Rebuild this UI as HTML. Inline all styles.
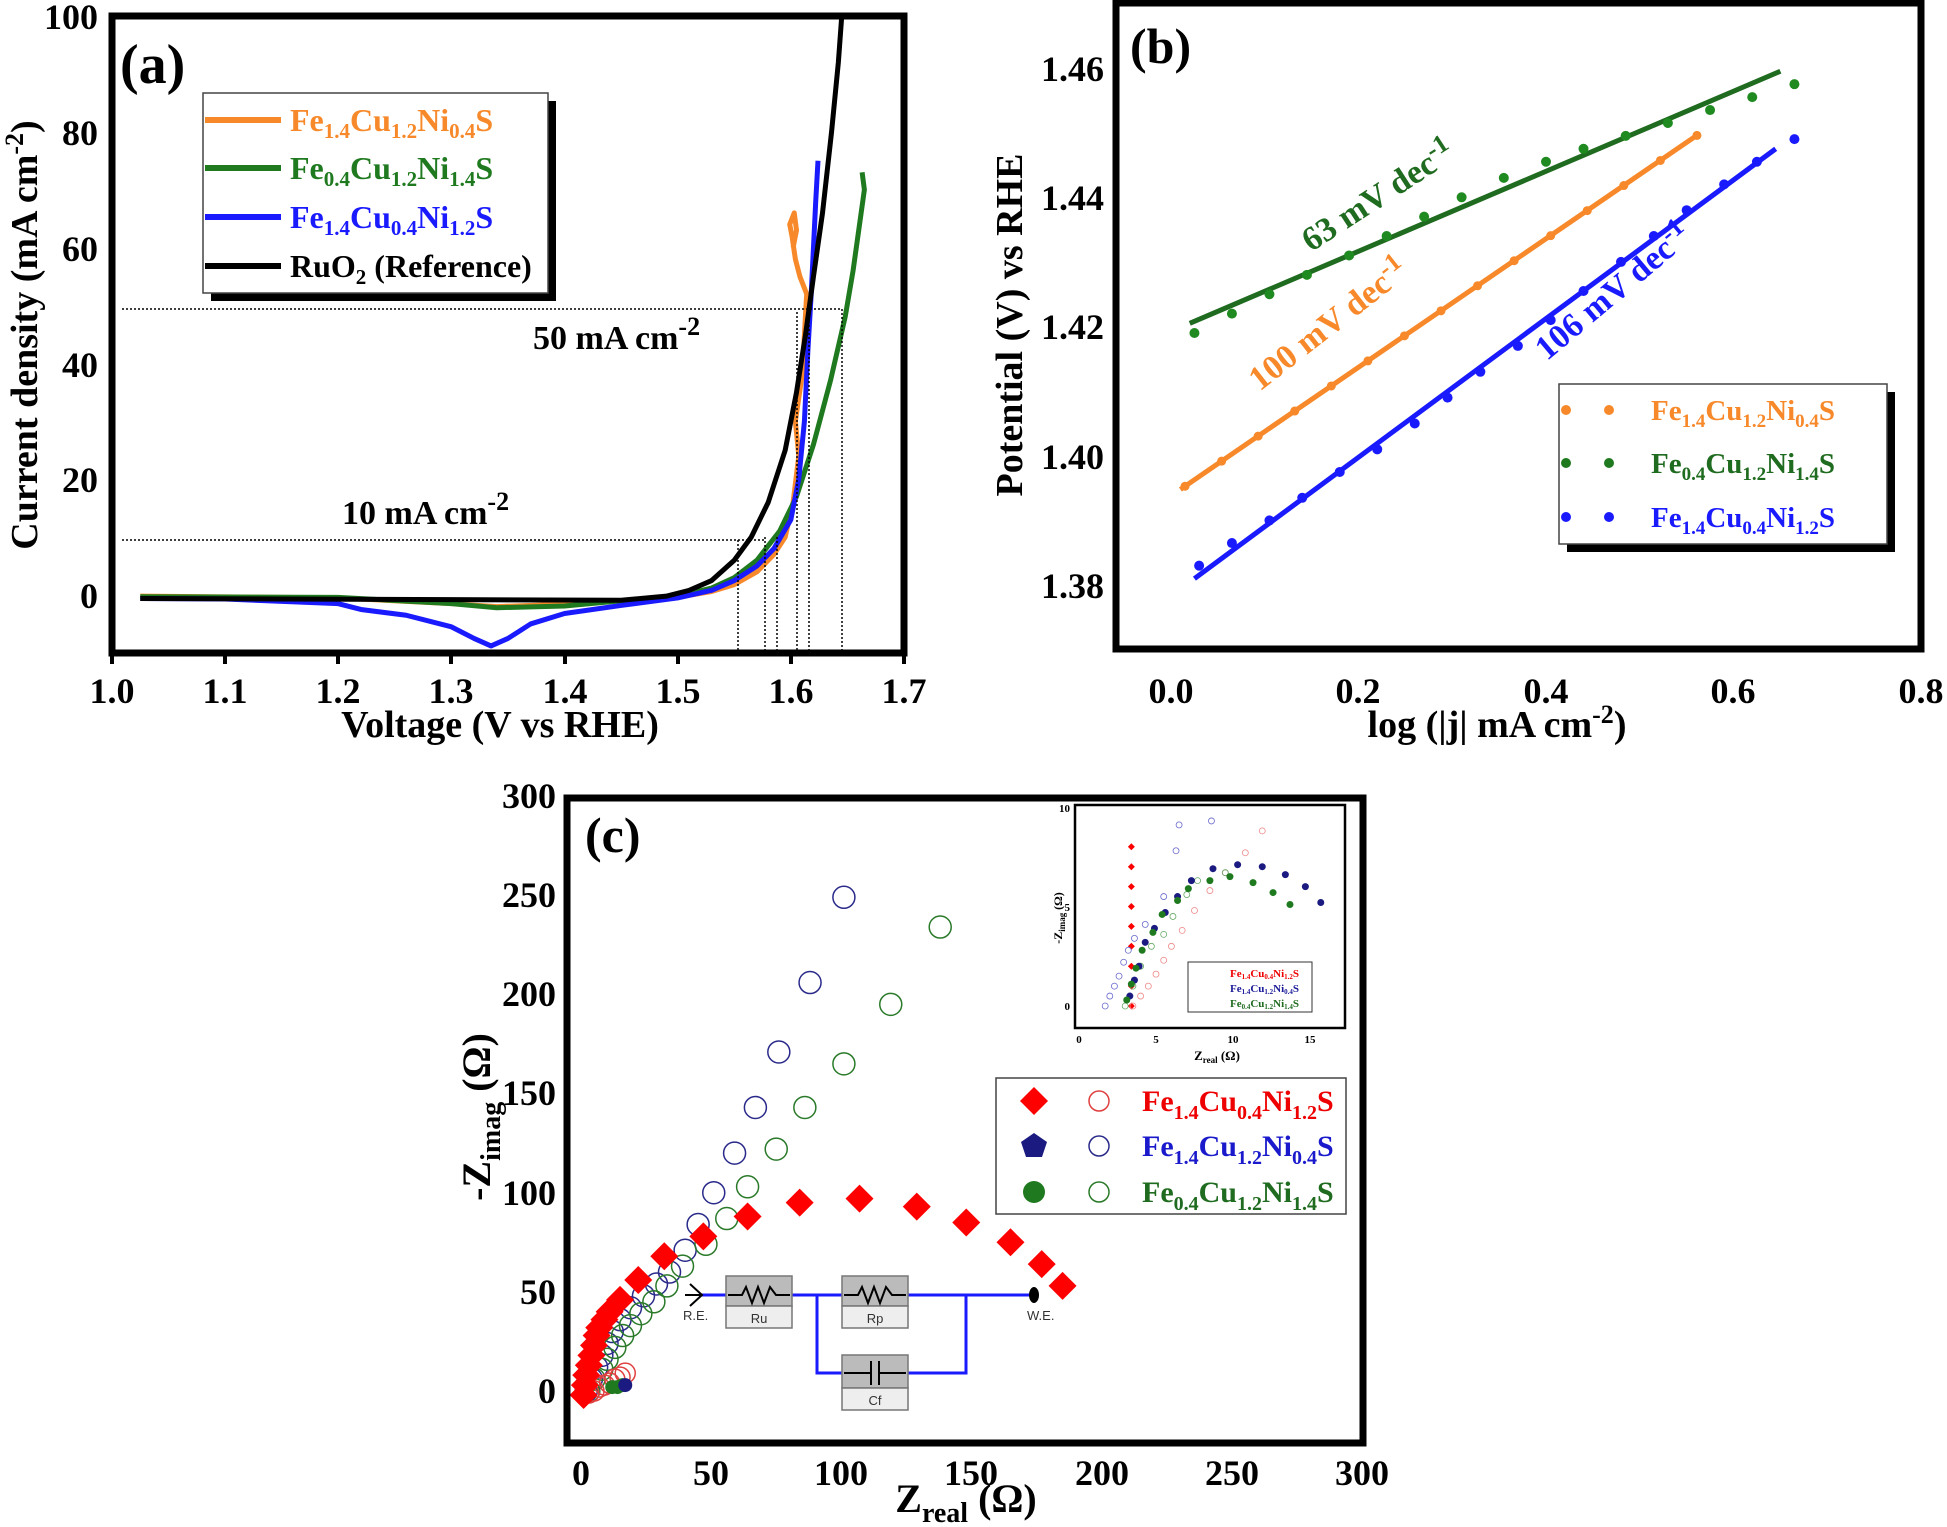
<!DOCTYPE html>
<html><head><meta charset="utf-8"><style>
html,body{margin:0;padding:0;background:#fff}
svg{display:block}
text{font-family:"Liberation Serif",serif;font-weight:bold}
</style></head><body>
<svg id="s" width="1947" height="1527" viewBox="0 0 1947 1527" xmlns="http://www.w3.org/2000/svg">
<rect width="1947" height="1527" fill="#fff"/>

<!-- ============ PANEL A ============ -->
<g id="pa">
<g transform="matrix(1131.4 0 0 -5.79 -1019.4 595)" fill="none" stroke-linejoin="round">
<path vector-effect="non-scaling-stroke" stroke="#f7892a" stroke-width="5" d="M1.025,-0.2 L1.2,-0.5 L1.3,-1.5 L1.34,-2 L1.4,-1.6 L1.45,-1 L1.5,-0.4 L1.53,0.6 L1.55,1.8 L1.57,4 L1.585,7 L1.595,10 L1.602,16 L1.607,24 L1.604,30 L1.61,38 L1.612,45 L1.614,52 L1.608,55 L1.604,58 L1.601,62 L1.599,64 L1.603,66 L1.605,63 L1.602,60"/>
<path vector-effect="non-scaling-stroke" stroke="#1f7a1f" stroke-width="5" d="M1.025,-0.3 L1.2,-0.4 L1.3,-1.5 L1.34,-2.2 L1.4,-1.9 L1.45,-1 L1.5,-0.2 L1.53,1.2 L1.55,3 L1.57,6 L1.59,11 L1.605,17 L1.62,26 L1.635,37 L1.648,48 L1.655,56 L1.66,63 L1.665,70 L1.663,73"/>
<path vector-effect="non-scaling-stroke" stroke="#1a1aff" stroke-width="5" d="M1.025,-0.6 L1.1,-0.7 L1.2,-1.5 L1.22,-2.5 L1.26,-3.5 L1.3,-5.5 L1.32,-7.5 L1.335,-8.8 L1.35,-7.5 L1.37,-5 L1.4,-3.2 L1.45,-1.8 L1.5,-0.5 L1.53,0.8 L1.55,2.5 L1.57,5 L1.585,8 L1.6,13 L1.607,20 L1.612,30 L1.615,42 L1.618,52 L1.62,60 L1.622,68 L1.624,75"/>
<path vector-effect="non-scaling-stroke" stroke="#000" stroke-width="5" d="M1.025,-0.6 L1.3,-0.8 L1.45,-0.9 L1.49,-0.2 L1.51,0.8 L1.53,2.5 L1.55,6 L1.565,10 L1.58,16 L1.595,25 L1.605,35 L1.613,45 L1.62,55 L1.628,66 L1.636,80 L1.642,92 L1.645,100"/>
</g>
<g stroke="#000" stroke-width="1.5" stroke-dasharray="2,2" fill="none">
<line x1="122" y1="309" x2="842" y2="309"/>
<line x1="122" y1="540" x2="764" y2="540"/>
<line x1="738" y1="540" x2="738" y2="653"/>
<line x1="765" y1="537" x2="765" y2="653"/>
<line x1="777" y1="537" x2="777" y2="653"/>
<line x1="797" y1="312" x2="797" y2="653"/>
<line x1="809" y1="309" x2="809" y2="653"/>
<line x1="842" y1="309" x2="842" y2="653"/>
</g>
<rect x="112" y="16" width="792" height="637" fill="none" stroke="#000" stroke-width="7"/>
<g stroke="#000" stroke-width="4">
<line x1="112" y1="653" x2="112" y2="664"/><line x1="225" y1="653" x2="225" y2="664"/><line x1="338" y1="653" x2="338" y2="664"/><line x1="451" y1="653" x2="451" y2="664"/><line x1="565" y1="653" x2="565" y2="664"/><line x1="678" y1="653" x2="678" y2="664"/><line x1="791" y1="653" x2="791" y2="664"/><line x1="904" y1="653" x2="904" y2="664"/>
</g>
<g font-size="36" text-anchor="middle">
<text x="112" y="703">1.0</text><text x="225" y="703">1.1</text><text x="338" y="703">1.2</text><text x="451" y="703">1.3</text><text x="565" y="703">1.4</text><text x="678" y="703">1.5</text><text x="791" y="703">1.6</text><text x="904" y="703">1.7</text>
</g>
<g font-size="36" text-anchor="end">
<text x="98" y="29">100</text><text x="98" y="145">80</text><text x="98" y="261">60</text><text x="98" y="377">40</text><text x="98" y="492">20</text><text x="98" y="608">0</text>
</g>
<text x="500" y="737" font-size="38" text-anchor="middle">Voltage (V vs RHE)</text>
<text transform="translate(37,335) rotate(-90)" font-size="38" text-anchor="middle">Current density (mA cm<tspan dy="-14" font-size="26">-2</tspan><tspan dy="14">)</tspan></text>
<text x="120" y="83" font-size="56">(a)</text>
<text x="533" y="349" font-size="34">50 mA cm<tspan dy="-14" font-size="26">-2</tspan></text>
<text x="342" y="524" font-size="34">10 mA cm<tspan dy="-14" font-size="26">-2</tspan></text>
<rect x="211" y="101" width="345" height="200" fill="#000"/>
<rect x="203" y="93" width="345" height="200" fill="#fff" stroke="#444" stroke-width="1.5"/>
<g stroke-width="6"><line x1="205" y1="120" x2="281" y2="120" stroke="#f7892a"/><line x1="205" y1="168" x2="281" y2="168" stroke="#1f7a1f"/><line x1="205" y1="217" x2="281" y2="217" stroke="#1a1aff"/><line x1="205" y1="266" x2="281" y2="266" stroke="#000"/></g>
<g font-size="32">
<text x="290" y="131" fill="#f7892a">Fe<tspan font-size="21" dy="7">1.4</tspan><tspan dy="-7">Cu</tspan><tspan font-size="21" dy="7">1.2</tspan><tspan dy="-7">Ni</tspan><tspan font-size="21" dy="7">0.4</tspan><tspan dy="-7">S</tspan></text>
<text x="290" y="179" fill="#1f7a1f">Fe<tspan font-size="21" dy="7">0.4</tspan><tspan dy="-7">Cu</tspan><tspan font-size="21" dy="7">1.2</tspan><tspan dy="-7">Ni</tspan><tspan font-size="21" dy="7">1.4</tspan><tspan dy="-7">S</tspan></text>
<text x="290" y="228" fill="#1a1aff">Fe<tspan font-size="21" dy="7">1.4</tspan><tspan dy="-7">Cu</tspan><tspan font-size="21" dy="7">0.4</tspan><tspan dy="-7">Ni</tspan><tspan font-size="21" dy="7">1.2</tspan><tspan dy="-7">S</tspan></text>
<text x="290" y="277" fill="#000">RuO<tspan font-size="21" dy="7">2</tspan><tspan dy="-7"> (Reference)</tspan></text>
</g>
</g>

<!-- ============ PANEL B ============ -->
<g id="pb">
<g transform="matrix(937.5 0 0 -6463 1171 9504)" fill="none">
<path vector-effect="non-scaling-stroke" stroke="#1f6b1f" stroke-width="5" d="M0.02,1.4205 L0.65,1.4595"/>
<path vector-effect="non-scaling-stroke" stroke="#f7892a" stroke-width="5" d="M0.01,1.3948 L0.56,1.4495"/>
<path vector-effect="non-scaling-stroke" stroke="#1a1aff" stroke-width="5" d="M0.025,1.381 L0.645,1.4475"/>
</g>
<g id="bdots"></g>
<rect x="1116" y="3" width="805" height="646" fill="none" stroke="#000" stroke-width="7"/>
<g font-size="36" text-anchor="middle">
<text x="1171" y="703">0.0</text><text x="1358" y="703">0.2</text><text x="1546" y="703">0.4</text><text x="1733" y="703">0.6</text><text x="1921" y="703">0.8</text>
</g>
<g font-size="36" text-anchor="end">
<text x="1104" y="81">1.46</text><text x="1104" y="210">1.44</text><text x="1104" y="339">1.42</text><text x="1104" y="469">1.40</text><text x="1104" y="598">1.38</text>
</g>
<text x="1497" y="737" font-size="38" text-anchor="middle">log (|j| mA cm<tspan dy="-14" font-size="26">-2</tspan><tspan dy="14">)</tspan></text>
<text transform="translate(1022,325) rotate(-90)" font-size="38" text-anchor="middle">Potential (V) vs RHE</text>
<text x="1130" y="63" font-size="50">(b)</text>
<text transform="translate(1384,205) rotate(-33)" font-size="34" fill="#1f6b1f" text-anchor="middle">63 mV dec<tspan dy="-12" font-size="26">-1</tspan></text>
<text transform="translate(1335,333) rotate(-38)" font-size="34" fill="#f7892a" text-anchor="middle">100 mV dec<tspan dy="-12" font-size="26">-1</tspan></text>
<text transform="translate(1620,300) rotate(-40)" font-size="34" fill="#1a1aff" text-anchor="middle">106 mV dec<tspan dy="-12" font-size="26">-1</tspan></text>
<rect x="1567" y="392" width="328" height="160" fill="#000"/>
<rect x="1559" y="384" width="328" height="160" fill="#fff" stroke="#444" stroke-width="1.5"/>
<g><circle cx="1566" cy="410" r="5" fill="#f7892a"/><circle cx="1609" cy="410" r="5" fill="#f7892a"/><circle cx="1566" cy="463" r="5" fill="#1f7a1f"/><circle cx="1609" cy="463" r="5" fill="#1f7a1f"/><circle cx="1566" cy="517" r="5" fill="#1a1aff"/><circle cx="1609" cy="517" r="5" fill="#1a1aff"/></g>
<g font-size="29">
<text x="1651" y="420" fill="#f7892a">Fe<tspan font-size="19" dy="7">1.4</tspan><tspan dy="-7">Cu</tspan><tspan font-size="19" dy="7">1.2</tspan><tspan dy="-7">Ni</tspan><tspan font-size="19" dy="7">0.4</tspan><tspan dy="-7">S</tspan></text>
<text x="1651" y="473" fill="#1f6b1f">Fe<tspan font-size="19" dy="7">0.4</tspan><tspan dy="-7">Cu</tspan><tspan font-size="19" dy="7">1.2</tspan><tspan dy="-7">Ni</tspan><tspan font-size="19" dy="7">1.4</tspan><tspan dy="-7">S</tspan></text>
<text x="1651" y="527" fill="#1a1aff">Fe<tspan font-size="19" dy="7">1.4</tspan><tspan dy="-7">Cu</tspan><tspan font-size="19" dy="7">0.4</tspan><tspan dy="-7">Ni</tspan><tspan font-size="19" dy="7">1.2</tspan><tspan dy="-7">S</tspan></text>
</g>
</g>

<!-- ============ PANEL C ============ -->
<g id="pc">
<g id="cmark"></g>
<g>
<line x1="699" y1="1295" x2="1034" y2="1295" stroke="#1a1aff" stroke-width="3"/>
<polyline points="817,1295 817,1373 966,1373 966,1295" fill="none" stroke="#1a1aff" stroke-width="3"/>
<path d="M690,1284 L702,1295 L690,1306" fill="none" stroke="#000" stroke-width="2"/>
<line x1="685" y1="1295" x2="702" y2="1295" stroke="#000" stroke-width="2"/>
<rect x="726" y="1276" width="66" height="30" fill="#bbb" stroke="#777" stroke-width="1.5"/><rect x="726" y="1306" width="66" height="22" fill="#eee" stroke="#777" stroke-width="1.5"/>
<rect x="842" y="1276" width="66" height="30" fill="#bbb" stroke="#777" stroke-width="1.5"/><rect x="842" y="1306" width="66" height="22" fill="#eee" stroke="#777" stroke-width="1.5"/>
<rect x="842" y="1355" width="66" height="33" fill="#bbb" stroke="#777" stroke-width="1.5"/><rect x="842" y="1388" width="66" height="22" fill="#eee" stroke="#777" stroke-width="1.5"/>
<path d="M728,1295 L742,1295 L746,1287 L752,1303 L758,1287 L764,1303 L770,1287 L776,1295 L790,1295" fill="none" stroke="#000" stroke-width="2"/>
<path d="M844,1295 L858,1295 L862,1287 L868,1303 L874,1287 L880,1303 L886,1287 L892,1295 L906,1295" fill="none" stroke="#000" stroke-width="2"/>
<path d="M844,1373 L871,1373 M871,1361 L871,1385 M879,1361 L879,1385 M879,1373 L906,1373" fill="none" stroke="#000" stroke-width="2"/>
<ellipse cx="1034" cy="1295" rx="5" ry="8" fill="#000"/>
<g font-size="13" fill="#333">
<text x="683" y="1320" style="font-family:'Liberation Sans',sans-serif;font-weight:normal">R.E.</text>
<text x="1027" y="1320" style="font-family:'Liberation Sans',sans-serif;font-weight:normal">W.E.</text>
<text x="759" y="1323" text-anchor="middle" style="font-family:'Liberation Sans',sans-serif;font-weight:normal">Ru</text>
<text x="875" y="1323" text-anchor="middle" style="font-family:'Liberation Sans',sans-serif;font-weight:normal">Rp</text>
<text x="875" y="1405" text-anchor="middle" style="font-family:'Liberation Sans',sans-serif;font-weight:normal">Cf</text>
</g>
</g>
<rect x="567" y="798" width="796" height="645" fill="none" stroke="#000" stroke-width="7"/>
<g font-size="36" text-anchor="middle">
<text x="581" y="1485">0</text><text x="711" y="1485">50</text><text x="841" y="1485">100</text><text x="971" y="1485">150</text><text x="1102" y="1485">200</text><text x="1232" y="1485">250</text><text x="1362" y="1485">300</text>
</g>
<g font-size="36" text-anchor="end">
<text x="556" y="808">300</text><text x="556" y="907">250</text><text x="556" y="1006">200</text><text x="556" y="1105">150</text><text x="556" y="1205">100</text><text x="556" y="1304">50</text><text x="556" y="1403">0</text>
</g>
<text x="966" y="1512" font-size="40" text-anchor="middle">Z<tspan font-size="28" dy="10">real</tspan><tspan dy="-10"> (Ω)</tspan></text>
<text transform="translate(490,1117) rotate(-90)" font-size="40" text-anchor="middle">-Z<tspan font-size="28" dy="10">imag</tspan><tspan dy="-10"> (Ω)</tspan></text>
<text x="585" y="852" font-size="50">(c)</text>
<rect x="1075" y="805" width="270" height="223" fill="#fff" stroke="#000" stroke-width="2.5"/>
<g id="inset"></g>
<g font-size="11" text-anchor="middle" style="font-weight:normal">
<text x="1079" y="1043">0</text><text x="1156" y="1043">5</text><text x="1233" y="1043">10</text><text x="1310" y="1043">15</text>
<text x="1070" y="1010" text-anchor="end">0</text><text x="1070" y="911" text-anchor="end">5</text><text x="1070" y="812" text-anchor="end">10</text>
<text x="1217" y="1060" font-size="13">Z<tspan font-size="9" dy="3">real</tspan><tspan dy="-3"> (Ω)</tspan></text>
<text transform="translate(1062,918) rotate(-90)" font-size="12">-Z<tspan font-size="9" dy="3">imag</tspan><tspan dy="-3"> (Ω)</tspan></text>
</g>
<rect x="1188" y="962" width="124" height="50" fill="#fff" stroke="#333" stroke-width="1"/>
<g font-size="11">
<text x="1230" y="977" fill="#e00">Fe<tspan font-size="7" dy="2">1.4</tspan><tspan dy="-2">Cu</tspan><tspan font-size="7" dy="2">0.4</tspan><tspan dy="-2">Ni</tspan><tspan font-size="7" dy="2">1.2</tspan><tspan dy="-2">S</tspan></text>
<text x="1230" y="992" fill="#1a1a99">Fe<tspan font-size="7" dy="2">1.4</tspan><tspan dy="-2">Cu</tspan><tspan font-size="7" dy="2">1.2</tspan><tspan dy="-2">Ni</tspan><tspan font-size="7" dy="2">0.4</tspan><tspan dy="-2">S</tspan></text>
<text x="1230" y="1007" fill="#1f6b1f">Fe<tspan font-size="7" dy="2">0.4</tspan><tspan dy="-2">Cu</tspan><tspan font-size="7" dy="2">1.2</tspan><tspan dy="-2">Ni</tspan><tspan font-size="7" dy="2">1.4</tspan><tspan dy="-2">S</tspan></text>
</g>
<rect x="996" y="1078" width="350" height="136" fill="#fff" stroke="#444" stroke-width="1.5"/>
<g id="cleg"></g>
<g font-size="30">
<text x="1142" y="1111" fill="#e00">Fe<tspan font-size="20" dy="8">1.4</tspan><tspan dy="-8">Cu</tspan><tspan font-size="20" dy="8">0.4</tspan><tspan dy="-8">Ni</tspan><tspan font-size="20" dy="8">1.2</tspan><tspan dy="-8">S</tspan></text>
<text x="1142" y="1156" fill="#1a1acc">Fe<tspan font-size="20" dy="8">1.4</tspan><tspan dy="-8">Cu</tspan><tspan font-size="20" dy="8">1.2</tspan><tspan dy="-8">Ni</tspan><tspan font-size="20" dy="8">0.4</tspan><tspan dy="-8">S</tspan></text>
<text x="1142" y="1202" fill="#1f6b1f">Fe<tspan font-size="20" dy="8">0.4</tspan><tspan dy="-8">Cu</tspan><tspan font-size="20" dy="8">1.2</tspan><tspan dy="-8">Ni</tspan><tspan font-size="20" dy="8">1.4</tspan><tspan dy="-8">S</tspan></text>
</g>
</g>
</svg>
<script>
(function(){
var NS="http://www.w3.org/2000/svg";
function el(p,t,a){var e=document.createElementNS(NS,t);for(var k in a)e.setAttribute(k,a[k]);p.appendChild(e);return e;}
var bd=document.getElementById("bdots");
function bx(x){return 1171+937.5*x} function by(p){return 9504-6463*p}
var g=[[0.025,1.419],[0.065,1.422],[0.105,1.425],[0.145,1.428],[0.19,1.431],[0.23,1.434],[0.27,1.437],[0.31,1.440],[0.355,1.443],[0.40,1.4455],[0.44,1.4475],[0.485,1.4495],[0.53,1.4515],[0.575,1.4535],[0.62,1.4555],[0.665,1.4575]];
g.forEach(function(p){el(bd,"circle",{cx:bx(p[0]),cy:by(p[1]),r:5,fill:"#1f8a1f"})});
for(var i=0;i<15;i++){var x=0.015+i*0.039;el(bd,"circle",{cx:bx(x),cy:by(1.3948+(x-0.01)*0.0994),r:4.5,fill:"#f7892a"});}
var b=[[0.03,1.383],[0.065,1.3865],[0.105,1.39],[0.14,1.3935],[0.18,1.3975],[0.22,1.401],[0.26,1.405],[0.295,1.409],[0.33,1.413],[0.37,1.417],[0.405,1.421],[0.44,1.4255],[0.48,1.43],[0.515,1.434],[0.55,1.438],[0.59,1.442],[0.625,1.4455],[0.665,1.449]];
b.forEach(function(p){el(bd,"circle",{cx:bx(p[0]),cy:by(p[1]),r:5,fill:"#1a1aff"})});
var cm=document.getElementById("cmark");
function cx(x){return 581+2.603*x} function cy(y){return 1395-1.983*y}
function diamond(p,x,y,s,f){el(p,"path",{d:"M"+x+","+(y-s)+" L"+(x+s)+","+y+" L"+x+","+(y+s)+" L"+(x-s)+","+y+"Z",fill:f});}
var bo=[[2,2],[4,8],[6,14],[8,20],[10,26],[12,32],[15,38],[19,44],[24,50],[29,56],[34,62],[40,73],[45,86],[51,102],[59,122],[67,145],[76,173],[88,208],[101,251]];
bo.forEach(function(p){el(cm,"circle",{cx:cx(p[0]),cy:cy(p[1]),r:11,fill:"none",stroke:"#2a2a8a","stroke-width":1.5})});
var go=[[3,2],[5,8],[8,13],[10,18],[13,24],[16,30],[19,35],[23,41],[28,47],[33,55],[39,65],[48,76],[56,89],[64,105],[75,124],[86,145],[101,167],[119,197],[138,236]];
go.forEach(function(p){el(cm,"circle",{cx:cx(p[0]),cy:cy(p[1]),r:11,fill:"none",stroke:"#2a7a2a","stroke-width":1.5})});
[[3,1],[5,2],[7,4],[9,5],[11,6],[13,8],[15,9],[17,11]].forEach(function(p){el(cm,"circle",{cx:cx(p[0]),cy:cy(p[1]),r:10,fill:"none",stroke:"#e04040","stroke-width":1.5})});
[[12,4],[14,4],[16,5]].forEach(function(p){el(cm,"circle",{cx:cx(p[0]),cy:cy(p[1]),r:7,fill:"#1f7a1f"})});
el(cm,"circle",{cx:cx(17),cy:cy(5),r:7,fill:"#1a1a80"});
var rd=[[1,0],[1.5,5],[2,10],[3,15],[4,20],[5,25],[6,30],[7,34],[9,38],[11,42],[15,48],[22,58],[32,70],[47,80],[64,90],[84,97],[107,99],[129,95],[148,87],[165,77],[177,66],[185,55]];
rd.forEach(function(p){diamond(cm,cx(p[0]),cy(p[1]),14,"#f00")});
var ins=document.getElementById("inset");
function ix(x){return 1079+15.4*x} function iy(y){return 1006-19.9*y}
for(var k=0;k<=8;k++)diamond(ins,ix(3.4),iy(k),3.5,"#f00");
[[1.7,0],[2,0.5],[2.3,1],[2.6,1.5],[2.9,2.2],[3.2,2.8],[3.6,3.4],[4.3,4.1],[5.5,5.5],[6.3,7.8],[6.5,9.1],[8.6,9.3]].forEach(function(p){el(ins,"circle",{cx:ix(p[0]),cy:iy(p[1]),r:3,fill:"none",stroke:"#6a6acc","stroke-width":0.8})});
[[3.5,0],[4,0.5],[4.5,1],[5,1.6],[5.5,2.3],[6,3],[6.7,3.8],[7.5,4.8],[8.5,5.8],[9.5,6.7],[10.8,7.7],[11.9,8.8]].forEach(function(p){el(ins,"circle",{cx:ix(p[0]),cy:iy(p[1]),r:3,fill:"none",stroke:"#ee8888","stroke-width":0.8})});
[[3,0],[3.5,1],[4,2],[4.7,3],[5.5,3.6],[6.1,4.5],[7,5.6],[7.7,6.3],[9.5,6.7]].forEach(function(p){el(ins,"circle",{cx:ix(p[0]),cy:iy(p[1]),r:3,fill:"none",stroke:"#66aa66","stroke-width":0.8})});
[[3.3,0.5],[3.6,1.3],[3.9,2],[4.3,3.2],[4.9,3.9],[5.6,4.7],[6.4,5.5],[7.3,6.3],[8.7,6.9],[10.3,7.1],[11.9,7],[13.4,6.6],[14.7,6],[15.7,5.2]].forEach(function(p){el(ins,"circle",{cx:ix(p[0]),cy:iy(p[1]),r:3.5,fill:"#1a1a80"})});
[[3.1,0.3],[3.4,1.1],[3.7,1.9],[4.1,2.8],[4.8,3.7],[5.4,4.6],[6.4,5.3],[7.1,5.9],[8.5,6.3],[9.8,6.5],[11.3,6.2],[12.6,5.7],[13.7,5.1]].forEach(function(p){el(ins,"circle",{cx:ix(p[0]),cy:iy(p[1]),r:3.5,fill:"#1f7a1f"})});
diamond(ins,1194,974,4,"#f00");el(ins,"circle",{cx:1194,cy:989,r:4,fill:"#1a1a80"});el(ins,"circle",{cx:1194,cy:1004,r:4,fill:"#1f7a1f"});
[[1214,974,"#ee8888"],[1214,989,"#6a6acc"],[1214,1004,"#66aa66"]].forEach(function(p){el(ins,"circle",{cx:p[0],cy:p[1],r:3,fill:"none",stroke:p[2],"stroke-width":0.8})});
var cl=document.getElementById("cleg");
diamond(cl,1034,1101,14,"#f00");
el(cl,"path",{d:"M1034,1133 L1047,1142 L1042,1157 L1026,1157 L1021,1142Z",fill:"#1a1a80"});
el(cl,"circle",{cx:1034,cy:1192,r:11,fill:"#1f7a1f"});
el(cl,"circle",{cx:1099,cy:1101,r:10,fill:"none",stroke:"#e04040","stroke-width":1.5});
el(cl,"circle",{cx:1099,cy:1146,r:10,fill:"none",stroke:"#2a2a8a","stroke-width":1.5});
el(cl,"circle",{cx:1099,cy:1192,r:10,fill:"none",stroke:"#2a7a2a","stroke-width":1.5});
})();
</script>
</body></html>
